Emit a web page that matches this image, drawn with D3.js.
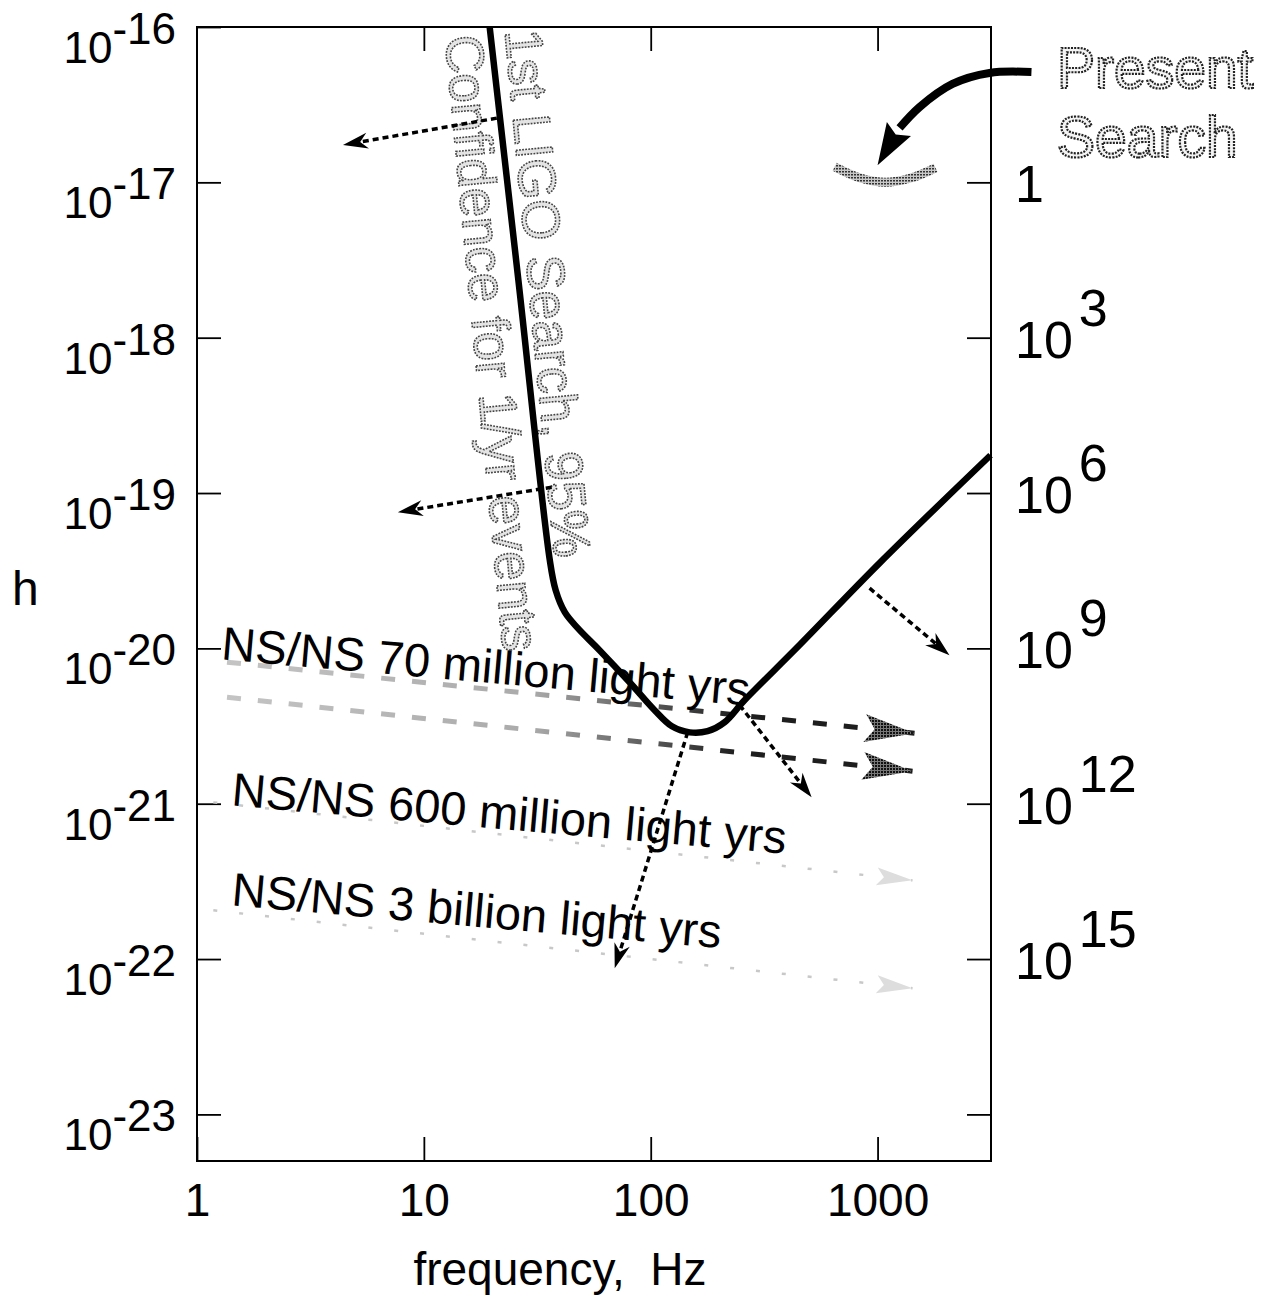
<!DOCTYPE html>
<html>
<head>
<meta charset="utf-8">
<script src="https://cdn.jsdelivr.net/npm/d3@7"></script>
<style>
  body { margin: 0; background: #fff; }
  svg { font-family: "Liberation Sans", Arial, Helvetica, sans-serif; }
  .axis line { stroke: #000; stroke-width: 1.8; }
  .axis path { display: none; }
  .axis text { font-size: 46px; fill: #000; }
  .stipple { fill: #e4e4e4; stroke: #444; stroke-width: 1.6; stroke-dasharray: 1.8 1.3; }
  .stipple.dark { fill: #f4f4f4; stroke: #222; stroke-width: 2.2; stroke-dasharray: 2 1.2; }
</style>
</head>
<body>
<div id="plot"></div>
<script>
// 1st LIGO search sensitivity (h vs frequency)
const ligoFreq = [19.5, 26.1, 35.9, 38.1, 41.8, 47.7, 59.6, 80.7, 104, 124, 148.5, 178, 212, 259, 453, 1020, 3147];
const ligoH = [1e-16, 2.35e-18, 3.70e-20, 2.37e-20, 1.71e-20, 1.35e-20, 9.7e-21, 6.05e-21, 4.0e-21,
               3.15e-21, 2.88e-21, 2.93e-21, 3.35e-21, 4.63e-21, 1.05e-20, 3.54e-20, 1.75e-19];

// present search band
const presentFreq = [647, 833, 1084, 1412, 1801];
const presentH = [1.26e-17, 1.07e-17, 1.0e-17, 1.07e-17, 1.24e-17];

// NS/NS inspiral tracks: [start, end]
const nsFreq = [[1.356, 1455], [1.356, 1426], [1.18, 1426], [1.18, 1426]];
const nsH = [[8.15e-21, 2.84e-21], [4.85e-21, 1.62e-21], [1.02e-21, 3.21e-22], [2.06e-22, 6.49e-23]];
const nsLabels = ["NS/NS 70 million light yrs", "NS/NS 600 million light yrs", "NS/NS 3 billion light yrs"];
const nsLabelFreq = [1.27, 1.41, 1.41];
const nsLabelH = [8.5e-21, 9.77e-22, 2.22e-22];

// dotted arrows: [f start, h start, f end, h end]
const dotArrows = [
  [20.97, 2.59e-17, 4.40, 1.74e-17],
  [36.6, 1.09e-19, 7.68, 7.53e-20],
  [922, 2.44e-20, 2075, 9.04e-21],
  [246.6, 4.31e-21, 512, 1.10e-21],
  [145.5, 2.88e-21, 69.4, 8.71e-23]
];

// curved "Present Search" pointer
const pointerFreq = [4768, 3114, 2140, 1531, 1250, 1000];
const pointerH = [5.13e-17, 5.06e-17, 4.30e-17, 3.05e-17, 2.24e-17, 1.29e-17];

// axes
const freqTicks = [1, 10, 100, 1000];
const hExp = [-16, -17, -18, -19, -20, -21, -22, -23];
const rateH = [1e-17, 1e-18, 1e-19, 1e-20, 1e-21, 1e-22];
const rateExp = [0, 3, 6, 9, 12, 15];

const margin = {top: 27, right: 294, bottom: 143, left: 197},
      width = 1285 - margin.left - margin.right,
      height = 1304 - margin.top - margin.bottom;

const svg = d3.select("#plot")
  .append("svg")
    .attr("width", 1285)
    .attr("height", 1304);

const defs = svg.append("defs");
const pat = defs.append("pattern")
  .attr("id", "hatch")
  .attr("patternUnits", "userSpaceOnUse")
  .attr("width", 3).attr("height", 3);
pat.append("rect").attr("width", 3).attr("height", 3).attr("fill", "#c8c8c8");
pat.append("rect").attr("width", 2).attr("height", 1.5).attr("fill", "#333");

const patDark = defs.append("pattern")
  .attr("id", "hatchDark")
  .attr("patternUnits", "userSpaceOnUse")
  .attr("width", 3).attr("height", 3);
patDark.append("rect").attr("width", 3).attr("height", 3).attr("fill", "#777");
patDark.append("rect").attr("width", 2).attr("height", 2).attr("fill", "#111");

const grad = defs.append("linearGradient")
  .attr("id", "fade")
  .attr("gradientUnits", "userSpaceOnUse")
  .attr("x1", 30).attr("x2", 540).attr("y1", 0).attr("y2", 0);
grad.append("stop").attr("offset", 0).attr("stop-color", "#c4c4c4");
grad.append("stop").attr("offset", 0.6).attr("stop-color", "#aaa");
grad.append("stop").attr("offset", 1).attr("stop-color", "#1e1e1e");

const g = svg.append("g")
  .attr("transform", "translate(" + margin.left + "," + margin.top + ")");

const xScale = d3.scaleLog()
  .domain([1, Math.pow(10, 3.5)])
  .range([0, width]);
const yScale = d3.scaleLog()
  .domain([1e-16, Math.pow(10, -23.3)])
  .range([0, height]);

// ticks (inward)
g.append("g").attr("class", "axis")
  .attr("transform", "translate(0," + height + ")")
  .call(d3.axisBottom(xScale).tickValues(freqTicks).tickFormat(d3.format("d"))
    .tickSizeInner(-24).tickSizeOuter(0).tickPadding(22));
g.append("g").attr("class", "axis")
  .call(d3.axisTop(xScale).tickValues(freqTicks.slice(1)).tickFormat("")
    .tickSizeInner(-24).tickSizeOuter(0));
g.append("g").attr("class", "axis")
  .call(d3.axisLeft(yScale).tickValues(hExp.map(e => Math.pow(10, e))).tickFormat("")
    .tickSizeInner(-24).tickSizeOuter(0));
g.append("g").attr("class", "axis")
  .attr("transform", "translate(" + width + ",0)")
  .call(d3.axisRight(yScale).tickValues(hExp.slice(1).map(e => Math.pow(10, e))).tickFormat("")
    .tickSizeInner(-24).tickSizeOuter(0));

// frame
g.append("rect")
  .attr("width", width).attr("height", height)
  .attr("fill", "none").attr("stroke", "#000").attr("stroke-width", 2);

// left labels 10^-n
const leftLab = g.selectAll(".hlab").data(hExp).enter()
  .append("text")
  .attr("class", "hlab")
  .attr("x", -21)
  .attr("y", d => yScale(Math.pow(10, d)) + 36)
  .attr("text-anchor", "end")
  .attr("font-size", 44);
leftLab.append("tspan").text("10");
leftLab.append("tspan").attr("dy", -19).text(d => "-" + (-d));

// right labels, events per year
const rightLab = g.selectAll(".rlab").data(rateExp).enter()
  .append("text")
  .attr("class", "rlab")
  .attr("x", width + 24)
  .attr("y", (d, i) => yScale(rateH[i]) + 20)
  .attr("font-size", 52);
rightLab.append("tspan").text(d => d === 0 ? "1" : "10");
rightLab.filter(d => d !== 0).append("tspan")
  .attr("dx", 6).attr("dy", -32).text(d => d);

// axis titles
svg.append("text")
  .attr("x", 12).attr("y", 605)
  .attr("font-size", 48)
  .text("h");
svg.append("text")
  .attr("x", margin.left + xScale(Math.pow(10, 1.6)))
  .attr("y", 1285)
  .attr("text-anchor", "middle")
  .attr("font-size", 46)
  .attr("xml:space", "preserve")
  .text("frequency,  Hz");

const line = d3.line()
  .x(d => xScale(d[0]))
  .y(d => yScale(d[1]));

const arrowHead = (x1, y1, x2, y2, L, W, notch) => {
  const len = Math.hypot(x2 - x1, y2 - y1),
        ux = (x2 - x1) / len, uy = (y2 - y1) / len;
  return "M" + x2 + "," + y2 +
    "L" + (x2 - ux * L - uy * W) + "," + (y2 - uy * L + ux * W) +
    "L" + (x2 - ux * L * notch) + "," + (y2 - uy * L * notch) +
    "L" + (x2 - ux * L + uy * W) + "," + (y2 - uy * L - ux * W) + "Z";
};

// NS/NS tracks
nsFreq.forEach((f, i) => {
  const pts = [[f[0], nsH[i][0]], [f[1], nsH[i][1]]];
  const strong = i < 2;
  const x1 = xScale(f[0]), y1 = yScale(nsH[i][0]),
        x2 = xScale(f[1]), y2 = yScale(nsH[i][1]);
  g.append("path")
    .attr("d", line(pts))
    .attr("fill", "none")
    .attr("stroke", strong ? "url(#fade)" : "#c8c8c8")
    .attr("stroke-width", strong ? 5 : 2.5)
    .style("stroke-dasharray", strong ? "14, 17" : "4, 22");
  g.append("path")
    .attr("d", strong ? arrowHead(x1, y1, x2, y2, 50, 14, 0.8) : arrowHead(x1, y1, x2, y2, 36, 9, 0.8))
    .attr("fill", strong ? "url(#hatchDark)" : "#ddd");
});

// rotated LIGO annotation along the steep edge
const ligoText = g.append("text")
  .attr("class", "stipple")
  .attr("font-size", 53)
  .attr("transform", "translate(" + (xScale(ligoFreq[0]) + 15) + ",4) rotate(84.6)");
ligoText.append("tspan").attr("x", 0).attr("y", 0).text("1st LIGO Search, 95%");
ligoText.append("tspan").attr("x", 0).attr("dy", 60).text("Confidence for 1/yr events");

// sensitivity curve
g.append("path")
  .datum(ligoFreq.map((f, i) => [f, ligoH[i]]))
  .attr("d", line.curve(d3.curveCatmullRom))
  .attr("fill", "none")
  .attr("stroke", "#000")
  .attr("stroke-width", 6.5)
  .attr("stroke-linejoin", "round");

// NS/NS labels
nsLabels.forEach((t, i) => {
  g.append("text")
    .attr("transform", "translate(" + xScale(nsLabelFreq[i]) + "," + yScale(nsLabelH[i]) + ") rotate(5)")
    .attr("font-size", 47)
    .text(t);
});

// dotted arrows
dotArrows.forEach(a => {
  const x1 = xScale(a[0]), y1 = yScale(a[1]),
        x2 = xScale(a[2]), y2 = yScale(a[3]);
  const len = Math.hypot(x2 - x1, y2 - y1);
  g.append("line")
    .attr("x1", x1).attr("y1", y1)
    .attr("x2", x2 - (x2 - x1) / len * 16).attr("y2", y2 - (y2 - y1) / len * 16)
    .attr("stroke", "#000")
    .attr("stroke-width", 3.5)
    .style("stroke-dasharray", "6, 4");
  g.append("path")
    .attr("d", arrowHead(x1, y1, x2, y2, 25, 8, 0.7))
    .attr("fill", "#000");
});

// present search band
g.append("path")
  .datum(presentFreq.map((f, i) => [f, presentH[i]]))
  .attr("d", line.curve(d3.curveCatmullRom))
  .attr("fill", "none")
  .attr("stroke", "url(#hatch)")
  .attr("stroke-width", 9);

// curved pointer
const ptr = pointerFreq.map((f, i) => [f, pointerH[i]]);
g.append("path")
  .datum(ptr.slice(0, -1))
  .attr("d", line.curve(d3.curveCatmullRom))
  .attr("fill", "none")
  .attr("stroke", "#000")
  .attr("stroke-width", 8);
const pa = ptr[ptr.length - 2], pb = ptr[ptr.length - 1];
g.append("path")
  .attr("d", arrowHead(xScale(pa[0]), yScale(pa[1]), xScale(pb[0]), yScale(pb[1]), 42, 14, 0.85))
  .attr("fill", "#000");

svg.append("text")
  .attr("class", "stipple dark")
  .attr("x", 1057).attr("y", 88)
  .attr("font-size", 57)
  .text("Present");
svg.append("text")
  .attr("class", "stipple dark")
  .attr("x", 1057).attr("y", 157)
  .attr("font-size", 57)
  .text("Search");
</script>
</body>
</html>
